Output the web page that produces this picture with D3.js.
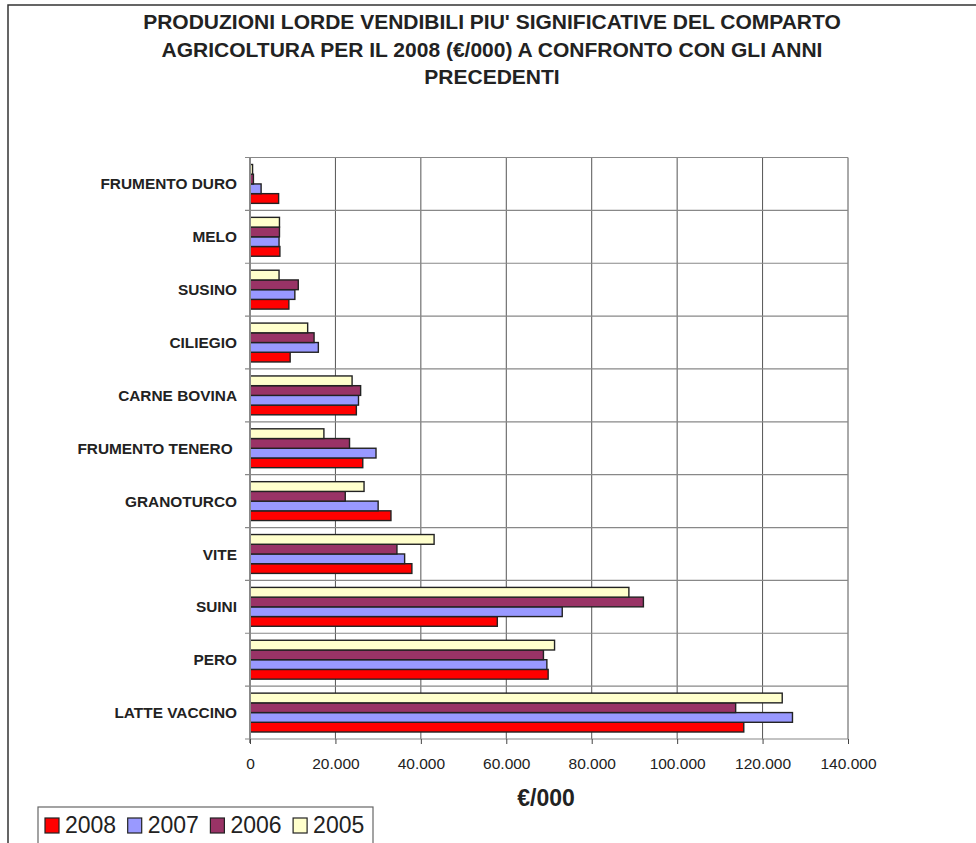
<!DOCTYPE html>
<html>
<head>
<meta charset="utf-8">
<script src="https://cdn.jsdelivr.net/npm/d3@7"></script>
<style>
  body { margin: 0; background: #fff; }
  svg { font-family: "Liberation Sans", Arial, sans-serif; display: block; }
</style>
</head>
<body>
<div id="chart"></div>
<script>
// categories bottom -> top, as in the source sheet
const categories = ["LATTE VACCINO", "PERO", "SUINI", "VITE", "GRANOTURCO", "FRUMENTO TENERO ",
                    "CARNE BOVINA", "CILIEGIO", "SUSINO", "MELO", "FRUMENTO DURO"];
const years = ["2008", "2007", "2006", "2005"];
const v2008 = [115600, 69800, 57900, 37900, 33000, 26400, 24900, 9400, 9100, 7000, 6700];
const v2007 = [127000, 69500, 73100, 36200, 30000, 29500, 25400, 16000, 10500, 6800, 2600];
const v2006 = [113700, 68700, 92100, 34400, 22300, 23300, 25900, 15000, 11300, 6900, 800];
const v2005 = [124600, 71300, 88700, 43100, 26700, 17300, 23900, 13500, 6800, 6900, 600];
const xTicks = [0, 20000, 40000, 60000, 80000, 100000, 120000, 140000];
const titleLines = ["PRODUZIONI LORDE VENDIBILI PIU' SIGNIFICATIVE DEL COMPARTO",
                    "AGRICOLTURA PER IL 2008 (€/000) A CONFRONTO CON GLI ANNI",
                    "PRECEDENTI"];

const seriesValues = { "2008": v2008, "2007": v2007, "2006": v2006, "2005": v2005 };
const colors = { "2008": "#FF0000", "2007": "#9999FF", "2006": "#993366", "2005": "#FFFFCC" };

const width = 976, height = 843;
const plotL = 250, plotR = 848, plotT = 157.5, plotB = 739;

const it = d3.formatLocale({ decimal: ",", thousands: ".", grouping: [3], currency: ["€", ""] });
const fmt = it.format(",");

const svg = d3.select("#chart").append("svg")
    .attr("width", width)
    .attr("height", height);

// outer chart border (runs off the page right and bottom)
svg.append("path")
    .attr("d", `M8,${height + 5}V5H${width + 5}`)
    .attr("fill", "none")
    .attr("stroke", "#333")
    .attr("stroke-width", 1.5);

// title
svg.append("g").selectAll("text")
    .data(titleLines)
    .join("text")
    .attr("x", 492)
    .attr("y", (d, i) => 29 + i * 27.5)
    .attr("text-anchor", "middle")
    .style("font-size", "21px")
    .style("font-weight", "bold")
    .attr("fill", "#222")
    .text(d => d);

const x = d3.scaleLinear().domain([0, 140000]).range([plotL, plotR]);
const y = d3.scaleBand().domain(categories.slice().reverse()).range([plotT, plotB]);
const yInner = d3.scaleBand().domain(years.slice().reverse())
    .range([0, y.bandwidth()]).paddingOuter(0.72);

// vertical gridlines
svg.append("g").selectAll("line")
    .data(xTicks.slice(1))
    .join("line")
    .attr("x1", d => x(d)).attr("x2", d => x(d))
    .attr("y1", plotT).attr("y2", plotB)
    .attr("stroke", "#555").attr("stroke-width", 1);

// horizontal category boundaries + left ticks
const bounds = categories.map(c => y(c)).concat([plotB]);
svg.append("g").selectAll("line")
    .data(bounds)
    .join("line")
    .attr("x1", plotL - 5).attr("x2", plotR)
    .attr("y1", d => d).attr("y2", d => d)
    .attr("stroke", "#888").attr("stroke-width", 1.2);

// bars
const groups = svg.append("g").selectAll("g")
    .data(categories.map((c, i) => ({ c, i })))
    .join("g")
    .attr("transform", d => `translate(0,${y(d.c)})`);

groups.selectAll("rect")
    .data(d => years.map(yr => ({ yr, v: seriesValues[yr][d.i] })))
    .join("rect")
    .attr("x", x(0))
    .attr("y", d => yInner(d.yr))
    .attr("width", d => x(d.v) - x(0))
    .attr("height", yInner.bandwidth())
    .attr("fill", d => colors[d.yr])
    .attr("stroke", "#222")
    .attr("stroke-width", 1.4);

// axis lines
svg.append("line")
    .attr("x1", plotL).attr("x2", plotL).attr("y1", plotT).attr("y2", plotB + 4)
    .attr("stroke", "#888").attr("stroke-width", 2);

const xAxis = d3.axisBottom(x).tickValues(xTicks).tickFormat(fmt).tickSize(5).tickPadding(14);
const gx = svg.append("g").attr("transform", `translate(0,${plotB})`).call(xAxis);
gx.select(".domain").remove();
gx.selectAll(".tick line").attr("stroke", "#444");
gx.selectAll(".tick text")
    .style("font-size", "15.5px")
    .style("font-family", "\"Liberation Sans\", Arial, sans-serif")
    .attr("fill", "#222");

// category labels
svg.append("g").selectAll("text")
    .data(categories)
    .join("text")
    .attr("x", 237)
    .attr("y", d => y(d) + y.bandwidth() / 2)
    .attr("dy", "0.36em")
    .attr("text-anchor", "end")
    .style("white-space", "pre")
    .style("font-size", "15.4px")
    .style("font-weight", "bold")
    .attr("fill", "#222")
    .text(d => d);

// axis title
svg.append("text")
    .attr("x", 546)
    .attr("y", 806)
    .attr("text-anchor", "middle")
    .style("font-size", "23px")
    .style("font-weight", "bold")
    .attr("fill", "#222")
    .text("€/000");

// legend
const legend = svg.append("g");
legend.append("rect")
    .attr("x", 38).attr("y", 807)
    .attr("width", 335).attr("height", 50)
    .attr("fill", "#fff")
    .attr("stroke", "#666").attr("stroke-width", 1.2);

const items = legend.selectAll("g.item")
    .data(years)
    .join("g")
    .attr("class", "item")
    .attr("transform", (d, i) => `translate(${45 + i * 82.7},0)`);

items.append("rect")
    .attr("x", 0).attr("y", 818)
    .attr("width", 14).attr("height", 15)
    .attr("fill", d => colors[d])
    .attr("stroke", "#222").attr("stroke-width", 1.2);

items.append("text")
    .attr("x", 20).attr("y", 833)
    .style("font-size", "23px")
    .attr("fill", "#222")
    .text(d => d);
</script>
</body>
</html>
